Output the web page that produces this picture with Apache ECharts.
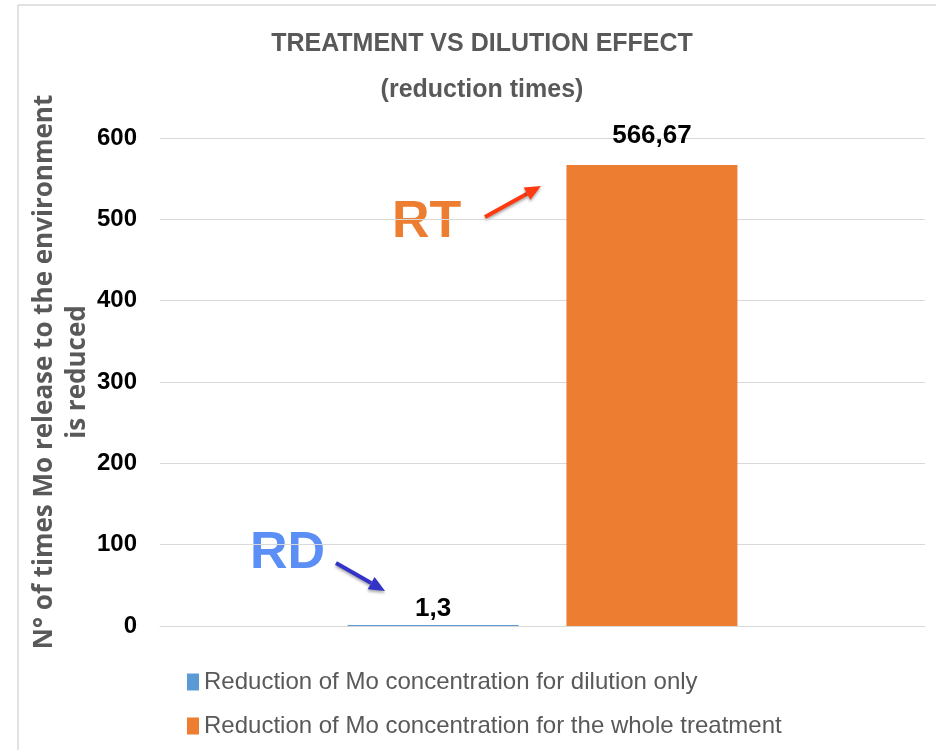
<!DOCTYPE html>
<html>
<head>
<meta charset="utf-8">
<script src="https://cdn.jsdelivr.net/npm/echarts@6/dist/echarts.min.js"></script>
<style>
	html, body { margin: 0; padding: 0; background: #fff; }
	#chart { width: 936px; height: 750px; }
</style>
</head>
<body>
<div id="chart"></div>
<script>
//data
const categories = ['Mo'];
const seriesNames = ['Reduction of Mo concentration for dilution only', 'Reduction of Mo concentration for the whole treatment'];
const dilutionValues = [1.3];
const treatmentValues = [566.67];
const yTicks = [0, 100, 200, 300, 400, 500, 600];

//styles
const
	BLUE = '#5b9bd5',
	ORANGE = '#ed7d31',
	GRAY_TEXT = '#595959',
	GRID_LINE = '#d9d9d9',
	SANS = '"Liberation Sans", Arial, sans-serif';

var chart = echarts.init(document.getElementById('chart'));

function commaLabel(p) {
	return String(p.value).replace('.', ',');
}

function arrow(x1, y1, x2, y2, color) {
	var dx = x2 - x1, dy = y2 - y1, len = Math.sqrt(dx * dx + dy * dy),
		ux = dx / len, uy = dy / len, head = 16, half = 7,
		bx = x2 - ux * head, by = y2 - uy * head;
	return {
		type: 'group',
		children: [
			{ type: 'line', shape: { x1: x1, y1: y1, x2: bx, y2: by },
				style: { stroke: color, lineWidth: 4, shadowBlur: 3, shadowColor: 'rgba(0,0,0,0.35)', shadowOffsetY: 2 } },
			{ type: 'polygon', shape: { points: [[x2, y2], [bx - uy * half, by + ux * half], [bx + uy * half, by - ux * half]] },
				style: { fill: color, shadowBlur: 3, shadowColor: 'rgba(0,0,0,0.35)', shadowOffsetY: 2 } }
		]
	};
}

chart.setOption({
	animation: false,
	title: {
		text: 'TREATMENT VS DILUTION EFFECT\n(reduction times)',
		left: 477, top: 16, textAlign: 'center',
		textStyle: { fontFamily: SANS, fontSize: 25, fontWeight: 'bold', color: GRAY_TEXT, lineHeight: 46 }
	},
	legend: {
		orient: 'vertical', left: 182, top: 665,
		itemWidth: 12, itemHeight: 17, itemGap: 20,
		icon: 'rect',
		data: seriesNames,
		textStyle: { fontFamily: SANS, fontSize: 24, color: GRAY_TEXT }
	},
	grid: { left: 160, right: 11, top: 138, bottom: 124 },
	xAxis: {
		type: 'category', data: categories,
		axisTick: { show: false }, axisLabel: { show: false },
		axisLine: { lineStyle: { color: GRID_LINE, width: 1 } }
	},
	yAxis: {
		type: 'value', min: yTicks[0], max: yTicks[yTicks.length - 1], interval: 100,
		name: 'N° of times Mo release to the environment\nis reduced',
		nameLocation: 'middle', nameGap: 66, nameMoveOverlap: false,
		nameTextStyle: { fontFamily: '"Open Sans", sans-serif', fontSize: 26, fontWeight: 'bold', color: GRAY_TEXT,
			lineHeight: 33, padding: [0, 0, 0, 20] },
		axisLine: { show: false }, axisTick: { show: false },
		axisLabel: { margin: 23, fontFamily: SANS, fontSize: 24, fontWeight: 'bold', color: '#000' },
		splitLine: { lineStyle: { color: GRID_LINE, width: 1 } }
	},
	series: [
		{
			name: seriesNames[0], type: 'bar', data: dilutionValues,
			barWidth: 171, barGap: '28%',
			itemStyle: { color: BLUE },
			label: { show: true, position: 'top', distance: 3, formatter: commaLabel,
				fontFamily: SANS, fontSize: 26, fontWeight: 'bold', color: '#000' }
		},
		{
			name: seriesNames[1], type: 'bar', data: treatmentValues,
			barWidth: 171,
			itemStyle: { color: ORANGE },
			label: { show: true, position: 'top', distance: 16, formatter: commaLabel,
				fontFamily: SANS, fontSize: 26, fontWeight: 'bold', color: '#000' }
		}
	],
	graphic: [
		{ type: 'line', shape: { x1: 18, y1: 5, x2: 936, y2: 5 }, style: { stroke: GRID_LINE, lineWidth: 1.5 } },
		{ type: 'line', shape: { x1: 18, y1: 5, x2: 18, y2: 750 }, style: { stroke: GRID_LINE, lineWidth: 1.5 } },
		{ type: 'text', x: 250, y: 554, style: { text: 'RD', fill: '#5b8ff5', font: 'bold 52px "Liberation Sans", sans-serif', textVerticalAlign: 'middle' } },
		{ type: 'text', x: 392, y: 223, style: { text: 'RT', fill: ORANGE, font: 'bold 52px "Liberation Sans", sans-serif', textVerticalAlign: 'middle' } },
		arrow(336, 563, 385, 591, '#3333c8'),
		arrow(485, 217, 541, 186, '#ff3a10')
	]
});
</script>
</body>
</html>
